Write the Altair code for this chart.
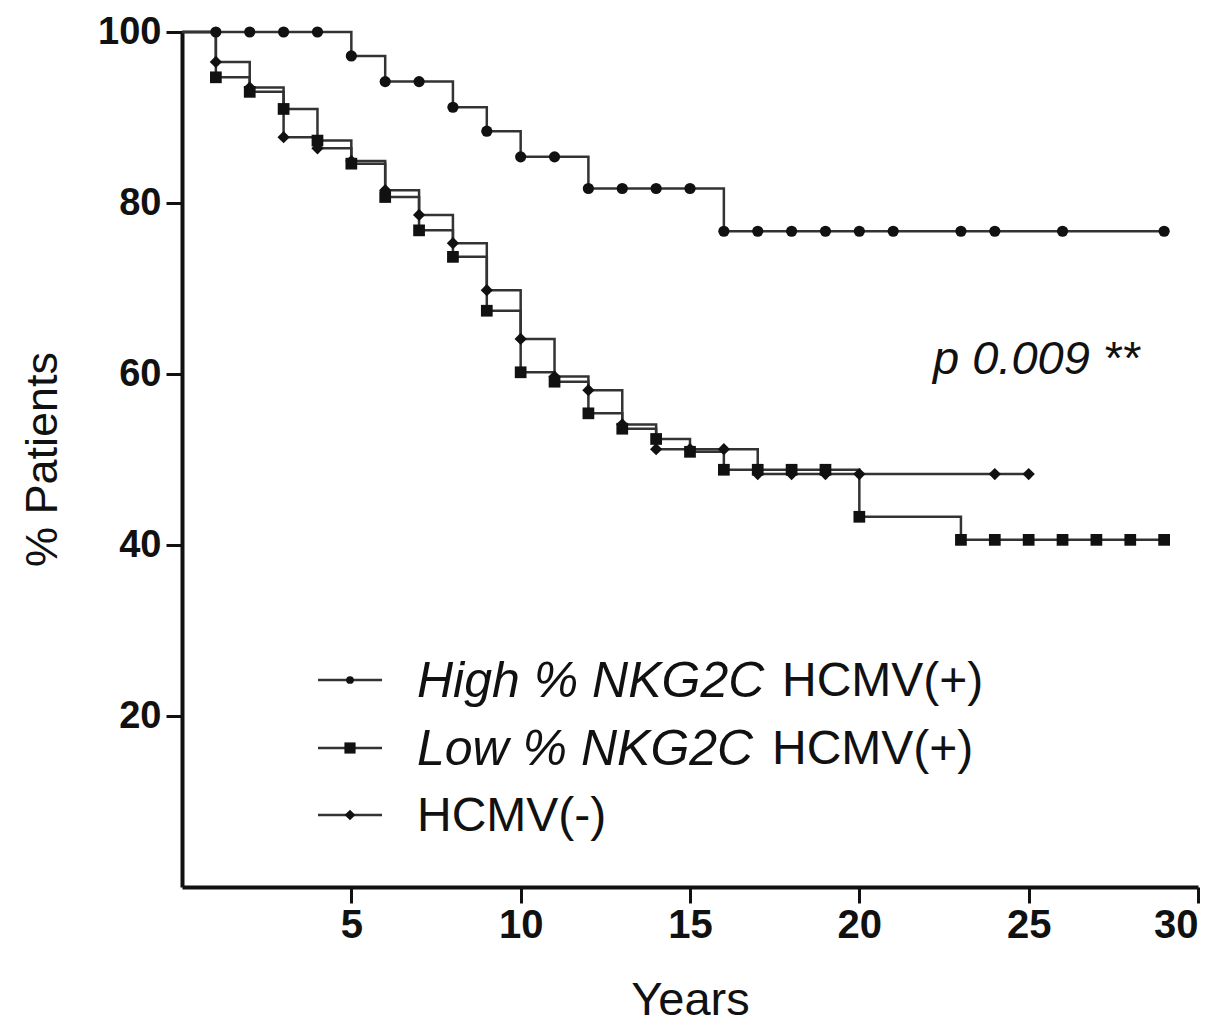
import altair as alt
import pandas as pd

# ---- data (Kaplan-Meier steps, years vs % patients) ----
series_names = ["High", "Low", "Neg"]

years_high = [0, 1, 2, 3, 4, 5, 6, 7, 8, 9, 10, 11, 12, 13, 14, 15, 16, 17, 18, 19, 20, 21, 23, 24, 26, 29]
surv_high = [100, 100, 100, 100, 100, 97.2, 94.2, 94.2, 91.2, 88.4, 85.4, 85.4, 81.7, 81.7, 81.7, 81.7,
             76.7, 76.7, 76.7, 76.7, 76.7, 76.7, 76.7, 76.7, 76.7, 76.7]

years_low = [0, 1, 2, 3, 4, 5, 6, 7, 8, 9, 10, 11, 12, 13, 14, 15, 16, 17, 18, 19, 20,
             23, 24, 25, 26, 27, 28, 29]
surv_low = [100, 94.7, 93.0, 91.0, 87.3, 84.6, 80.7, 76.8, 73.7, 67.4, 60.2, 59.1, 55.4, 53.6, 52.4,
            50.9, 48.8, 48.8, 48.8, 48.8, 43.3, 40.6, 40.6, 40.6, 40.6, 40.6, 40.6, 40.6]

years_neg = [0, 1, 2, 3, 4, 5, 6, 7, 8, 9, 10, 11, 12, 13, 14, 15, 16, 17, 18, 19, 20, 24, 25]
surv_neg = [100, 96.5, 93.5, 87.7, 86.4, 84.9, 81.5, 78.6, 75.3, 69.8, 64.1, 59.7, 58.1, 54.1, 51.2,
            51.2, 51.2, 48.3, 48.3, 48.3, 48.3, 48.3, 48.3]

x_ticks = [5, 10, 15, 20, 25, 30]
y_ticks = [20, 40, 60, 80, 100]

legend_italic = ["High % NKG2C", "Low % NKG2C", ""]
legend_normal = ["HCMV(+)", "HCMV(+)", "HCMV(-)"]
p_text = "p 0.009 **"

# ---- build table ----
rows = []
for name, xs, ys in [("High", years_high, surv_high), ("Low", years_low, surv_low), ("Neg", years_neg, surv_neg)]:
    for xv, yv in zip(xs, ys):
        rows.append({"series": name, "year": xv, "pct": yv})
df = pd.DataFrame(rows)

FONT = "Liberation Sans"
INK = "#111111"
LINE = "#333333"

x_enc = alt.X(
    "year:Q",
    scale=alt.Scale(domain=[0, 30], nice=False),
    axis=alt.Axis(
        values=x_ticks, title="Years", labelFontSize=40, labelPadding=2,
        titleX=508, titleY=113, titleBaseline="middle", titleFontSize=47,
    ),
)
y_enc = alt.Y(
    "pct:Q",
    scale=alt.Scale(domain=[0, 100], nice=False),
    axis=alt.Axis(
        values=y_ticks, title="% Patients", labelFontSize=38, labelPadding=5,
        titleX=-140, titleY=427, titleAngle=-90, titleAlign="center",
        titleBaseline="middle", titleFontSize=45,
    ),
)

lines = alt.Chart(df).mark_line(interpolate="step-after", strokeWidth=2.5, color=LINE).encode(
    x=x_enc, y=y_enc, detail="series:N", order="year:Q"
)

points = alt.Chart(df).transform_filter("datum.year > 0").mark_point(
    filled=True, opacity=1, color=INK
).encode(
    x="year:Q",
    y="pct:Q",
    shape=alt.Shape("series:N", scale=alt.Scale(domain=series_names, range=["circle", "square", "diamond"]), legend=None),
    size=alt.Size("series:N", scale=alt.Scale(domain=series_names, range=[125, 150, 135]), legend=None),
)

layers = [lines, points]

# ---- custom legend (mixed italic / roman text) ----
leg_y = [648, 716, 783]
leg_shape = ["circle", "square", "diamond"]
leg_size = [60, 125, 115]
normal_x = [600, 590, 235]
for i in range(3):
    one = pd.DataFrame({"it": [legend_italic[i]], "nm": [legend_normal[i]]})
    c = alt.Chart(one)
    layers.append(c.mark_rule(color=LINE, strokeWidth=2.5).encode(
        x=alt.value(136), x2=alt.value(200), y=alt.value(leg_y[i])))
    layers.append(c.mark_point(filled=True, opacity=1, color=INK, shape=leg_shape[i], size=leg_size[i]).encode(
        x=alt.value(168), y=alt.value(leg_y[i])))
    if legend_italic[i]:
        layers.append(c.mark_text(font=FONT, fontSize=50, fontStyle="italic", align="left",
                                  baseline="middle", color=INK).encode(
            x=alt.value(235), y=alt.value(leg_y[i] + 2), text="it:N"))
    layers.append(c.mark_text(font=FONT, fontSize=48, align="left", baseline="middle", color=INK).encode(
        x=alt.value(normal_x[i]), y=alt.value(leg_y[i] + 2), text="nm:N"))

ptxt = alt.Chart(pd.DataFrame({"t": [p_text]})).mark_text(
    font=FONT, fontSize=47, fontStyle="italic", align="left", baseline="middle", color=INK
).encode(x=alt.value(751), y=alt.value(328), text="t:N")
layers.append(ptxt)

chart = alt.layer(*layers).properties(
    width=1016, height=855,
    autosize=alt.AutoSizeParams(type="none"),
    padding={"left": 174, "top": 24, "right": 12, "bottom": 136},
    background="white",
).configure_view(stroke=None).configure_axis(
    grid=False, domainColor=INK, domainWidth=4, tickColor=INK, tickWidth=3, tickSize=16,
    labelFont=FONT, labelFontWeight="bold", labelColor=INK,
    titleFont=FONT, titleFontWeight="normal", titleColor=INK,
)

chart.save("out.html", embed_options={"renderer": "svg", "actions": False})
